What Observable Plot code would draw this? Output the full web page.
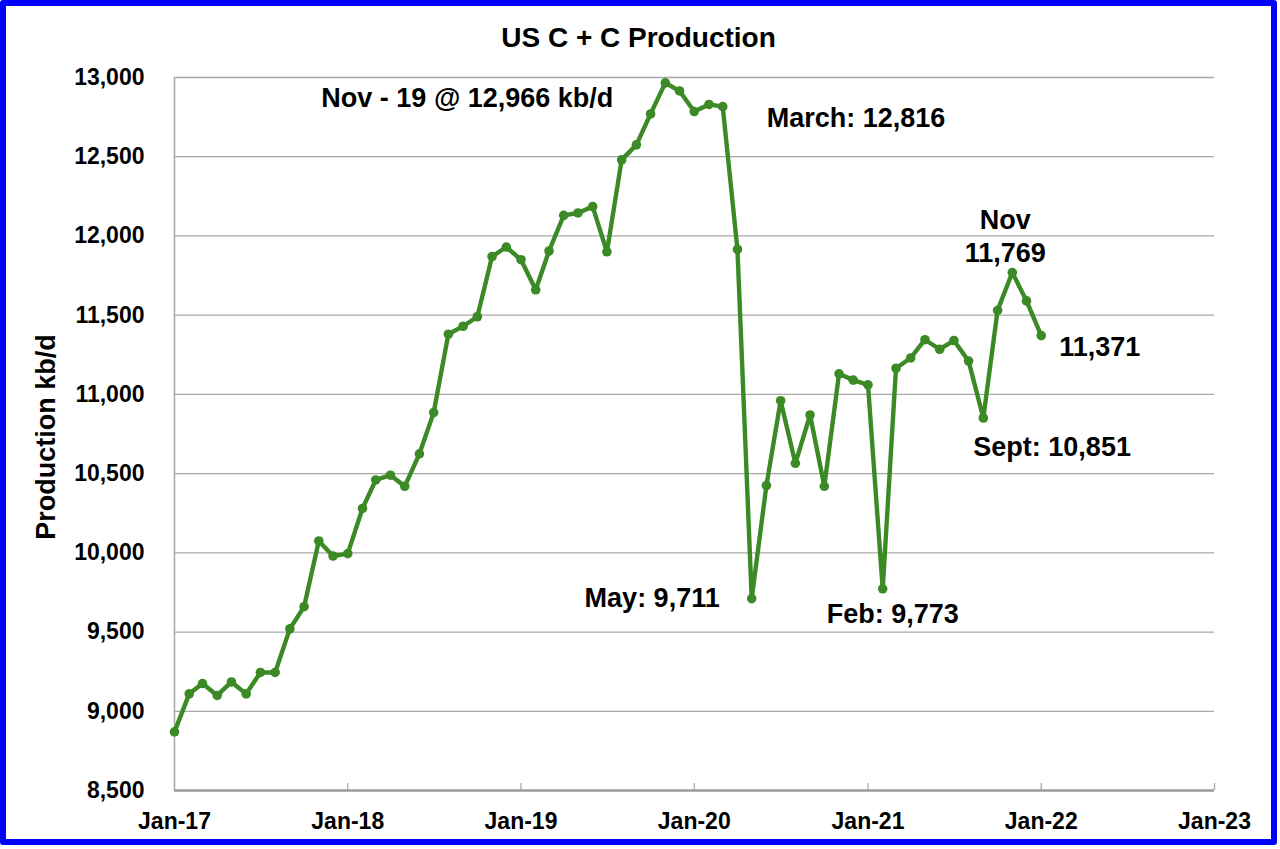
<!DOCTYPE html>
<html>
<head>
<meta charset="utf-8">
<script src="https://cdn.jsdelivr.net/npm/d3@7"></script>
<script src="https://cdn.jsdelivr.net/npm/@observablehq/plot@0.6"></script>
<style>
  html, body { margin: 0; padding: 0; background: #fff; }
  #wrap { position: relative; width: 1280px; height: 849px; overflow: hidden; background: #fff; }
  #chart { position: absolute; left: 0; top: 0; }
  #frame { position: absolute; left: 0; top: 0; width: 1277px; height: 845px; box-sizing: border-box;
           border: 6px solid #0000ff; border-radius: 3px; pointer-events: none; }
</style>
</head>
<body>
<div id="wrap"><div id="chart"></div><div id="frame"></div></div>
<script>
// ---- Data ----
const startMonth = "2017-01";              // first observation
const production = [                        // US crude + condensate, kb/d, monthly
  8870, 9110, 9175, 9100, 9185, 9110, 9245, 9245, 9520, 9660, 10075, 9980,        // 2017
  9995, 10280, 10460, 10490, 10420, 10625, 10885, 11380, 11430, 11490, 11870, 11930, // 2018
  11850, 11660, 11905, 12130, 12145, 12185, 11900, 12480, 12575, 12770, 12966, 12915, // 2019
  12785, 12830, 12816, 11915, 9711, 10425, 10960, 10565, 10870, 10420, 11130, 11090,  // 2020
  11060, 9773, 11165, 11230, 11345, 11285, 11340, 11210, 10851, 11530, 11769, 11590,  // 2021
  11371                                                                               // 2022
];
const yTicks = [8500, 9000, 9500, 10000, 10500, 11000, 11500, 12000, 12500, 13000];
const xTickLabels = ["Jan-17", "Jan-18", "Jan-19", "Jan-20", "Jan-21", "Jan-22", "Jan-23"];
const titleText = "US C + C Production";
const yLabel = "Production kb/d";

// annotation texts and the month they refer to
const noteTexts  = ["Nov - 19 @ 12,966 kb/d", "March: 12,816", "May: 9,711", "Feb: 9,773", "Sept: 10,851", "Nov", "11,769", "11,371"];
const noteMonths = ["2019-11", "2020-03", "2020-05", "2021-02", "2021-09", "2021-11", "2021-11", "2022-01"];

// ---- Build table ----
const parseMonth = d3.utcParse("%Y-%m");
const start = parseMonth(startMonth);
const data = production.map((v, i) => ({ date: d3.utcMonth.offset(start, i), value: v }));
const xTicks = xTickLabels.map(s => d3.utcParse("%b-%y")(s));
const byMonth = new Map(data.map(d => [d3.utcFormat("%Y-%m")(d.date), d]));
const notes = noteTexts.map((t, i) => ({ text: t, ...byMonth.get(noteMonths[i]) }));

const green = "#3b8a25";
const grid = "#a8a8a8";
const font = '"Liberation Sans", Arial, Helvetica, sans-serif';

// per-annotation placement (offsets from the referenced point)
const place = [
  { textAnchor: "end",    dx: -52, dy: 15 },
  { textAnchor: "start",  dx: 44,  dy: 12 },
  { textAnchor: "end",    dx: -32, dy: 0 },
  { textAnchor: "start",  dx: -56, dy: 26 },
  { textAnchor: "start",  dx: -10, dy: 29 },
  { textAnchor: "middle", dx: -7,  dy: -52 },
  { textAnchor: "middle", dx: -7,  dy: -19 },
  { textAnchor: "start",  dx: 18,  dy: 12 }
];

const noteMarks = notes.map((n, i) => Plot.text([n], {
  x: "date", y: "value", text: "text",
  fontSize: 27, fontWeight: "bold", fill: "#000",
  lineAnchor: "middle", ...place[i]
}));

const chart = Plot.plot({
  width: 1280,
  height: 849,
  marginLeft: 174,
  marginRight: 66,
  marginTop: 77,
  marginBottom: 59,
  x: { type: "utc", domain: [xTicks[0], xTicks[xTicks.length - 1]] },
  y: { domain: [yTicks[0], yTicks[yTicks.length - 1]] },
  style: { fontFamily: font, fontWeight: "bold", color: "#000", background: "transparent", overflow: "visible" },
  marks: [
    Plot.ruleY(yTicks.slice(1), { stroke: grid, strokeWidth: 1.3 }),
    Plot.ruleX([xTicks[0]], { stroke: grid, strokeWidth: 1.5 }),
    Plot.ruleY([yTicks[0]], { stroke: "#9a9a9a", strokeWidth: 2.5 }),
    Plot.ruleX(xTicks.slice(1), { y1: yTicks[0], y2: yTicks[0], insetTop: -7, stroke: grid, strokeWidth: 1.3 }),
    Plot.axisY({ ticks: yTicks, tickSize: 0, tickPadding: 30, tickFormat: d3.format(","), fontSize: 23, fontWeight: "bold", label: null }),
    Plot.axisX({ ticks: xTicks, tickSize: 0, tickPadding: 22, tickFormat: d3.utcFormat("%b-%y"), fontSize: 23, fontWeight: "bold", label: null }),
    Plot.line(data, { x: "date", y: "value", stroke: green, strokeWidth: 4.4, strokeLinejoin: "round" }),
    Plot.dot(data, { x: "date", y: "value", r: 4.8, fill: green, stroke: "none" }),
    Plot.text([titleText], { frameAnchor: "top", dx: -56, dy: -39, fontSize: 28, fontWeight: "bold", lineAnchor: "middle", fill: "#000" }),
    Plot.text([yLabel], { frameAnchor: "left", textAnchor: "middle", rotate: -90, dx: -128, dy: 3, fontSize: 27, fontWeight: "bold", lineAnchor: "middle", fill: "#000" }),
    ...noteMarks
  ]
});
document.getElementById("chart").appendChild(chart);
</script>
</body>
</html>
